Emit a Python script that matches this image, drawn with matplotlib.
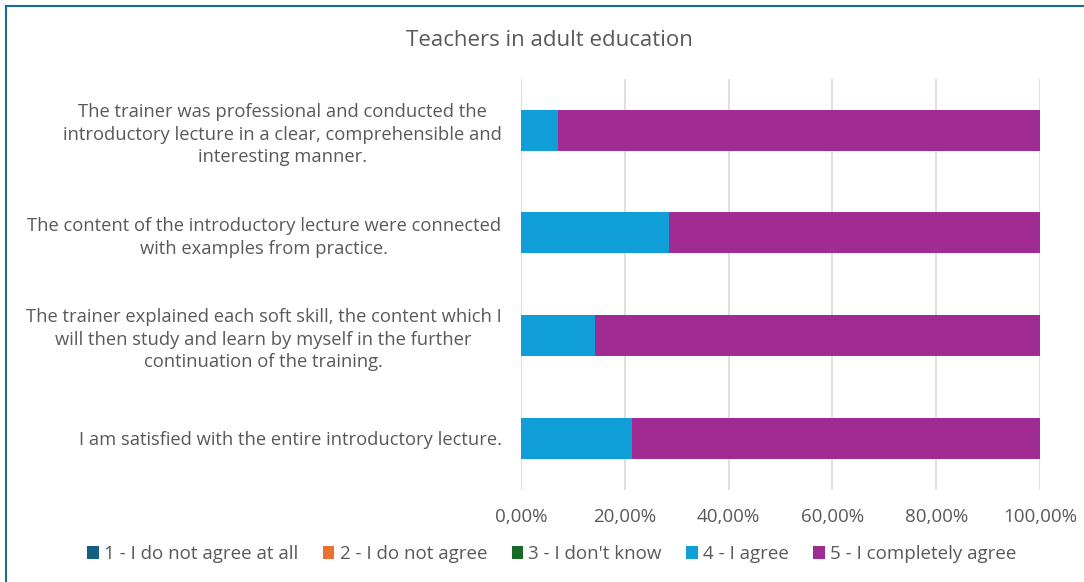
import matplotlib.pyplot as plt
from matplotlib.lines import Line2D
from matplotlib.ticker import FuncFormatter
import numpy as np

plt.rcParams['font.family'] = ['Open Sans', 'DejaVu Sans']

title = "Teachers in adult education"
categories = [
    "The trainer was professional and conducted the\nintroductory lecture in a clear, comprehensible and\ninteresting manner.",
    "The content of the introductory lecture were connected\nwith examples from practice.",
    "The trainer explained each soft skill, the content which I\nwill then study and learn by myself in the further\ncontinuation of the training.",
    "I am satisfied with the entire introductory lecture.",
]
series_names = [
    "1 - I do not agree at all",
    "2 - I do not agree",
    "3 - I don't know",
    "4 - I agree",
    "5 - I completely agree",
]
# shares of respondents per answer, per statement
values = {
    "1 - I do not agree at all": [0.0, 0.0, 0.0, 0.0],
    "2 - I do not agree": [0.0, 0.0, 0.0, 0.0],
    "3 - I don't know": [0.0, 0.0, 0.0, 0.0],
    "4 - I agree": [0.0714, 0.2857, 0.1429, 0.2143],
    "5 - I completely agree": [0.9286, 0.7143, 0.8571, 0.7857],
}
colors = ["#156082", "#E97132", "#196B24", "#0F9ED5", "#A02B93"]

fig = plt.figure(figsize=(10.84, 5.82), dpi=100)
ax = fig.add_axes([521 / 1084, 1 - 489.5 / 582, 519 / 1084, 410.5 / 582])

y = np.arange(len(categories))
left = np.zeros(len(categories))
for name, col in zip(series_names, colors):
    v = np.array(values[name])
    ax.barh(y, v, left=left, height=0.4, color=col, label=name, zorder=3)
    left += v

ax.set_ylim(len(categories) - 0.5, -0.5)
ax.set_xlim(0, 1)
ax.set_xticks(np.linspace(0, 1, 6))
ax.xaxis.set_major_formatter(FuncFormatter(lambda x, p: f"{x*100:.2f}%".replace(".", ",")))
ax.set_yticks(y)
ax.set_yticklabels(categories, ha="right", multialignment="center", fontsize=13.2,
                   color="#595959", linespacing=1.33)
ax.tick_params(axis="y", length=0, pad=14)
ax.tick_params(axis="x", length=0, pad=13, labelsize=13.5, labelcolor="#595959")
ax.grid(axis="x", color="#D9D9D9", linewidth=1.2, zorder=0)
for s in ax.spines.values():
    s.set_visible(False)

fig.text(549 / 1084, 1 - 40 / 582, title, ha="center", va="center", fontsize=16, color="#595959")

fig.legend(
    *ax.get_legend_handles_labels(),
    loc="center", bbox_to_anchor=(552 / 1084, 1 - 554 / 582), ncol=5, frameon=False,
    fontsize=13.5, labelcolor="#595959", handlelength=0.6, handleheight=0.7,
    handletextpad=0.3, columnspacing=1.3,
)

# chart frame edges
fig.add_artist(Line2D([6 / 1084, 1], [1 - 6 / 582, 1 - 6 / 582], color="#1A6A9A", linewidth=1.5, transform=fig.transFigure))
fig.add_artist(Line2D([6 / 1084, 6 / 1084], [0, 1 - 6 / 582], color="#1A6A9A", linewidth=1.5, transform=fig.transFigure))

fig.savefig("out.png", dpi=100)
